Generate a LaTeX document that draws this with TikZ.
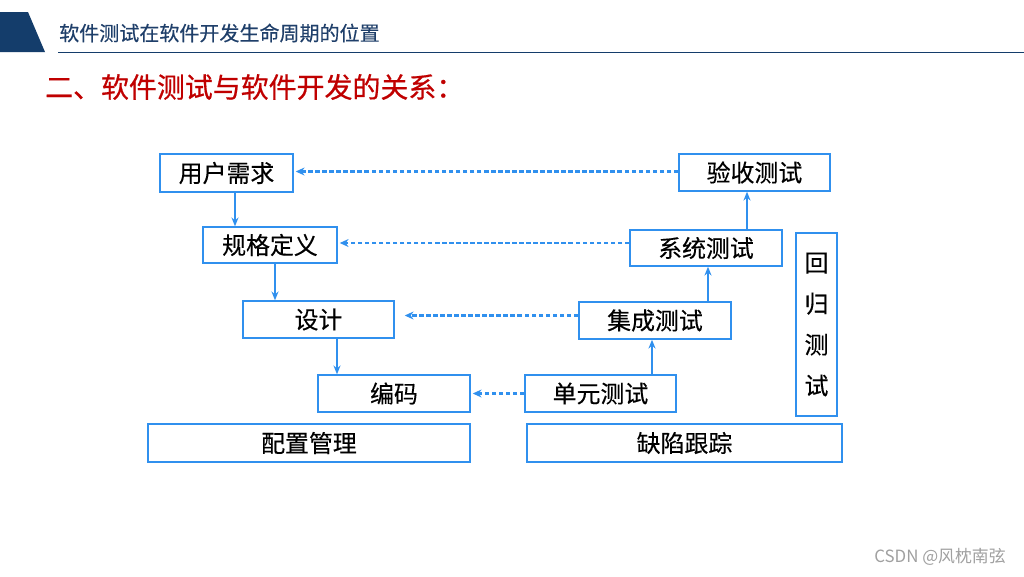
\documentclass[tikz,border=0pt]{standalone}
\usepackage{fontspec}
\setmainfont{Noto Sans CJK SC}
\newfontfamily\boldcjk[FakeBold=0.6]{Noto Sans CJK SC}
\newfontfamily\semicjk[FakeBold=0.3]{Noto Sans CJK SC}
\usetikzlibrary{arrows.meta,positioning}
\definecolor{boxcol}{HTML}{3090EE}
\definecolor{navycol}{HTML}{143D6B}
\definecolor{titlecol}{HTML}{1F3F6A}
\definecolor{redcol}{HTML}{C00000}
\definecolor{mutedcol}{HTML}{A0A0A0}

\begin{document}
\begin{tikzpicture}[
    x=0.02cm, y=-0.02cm,
    >={Stealth[length=5pt,width=4pt]},
    stage/.style={draw=boxcol, line width=0.85pt, inner sep=0pt,
      minimum width=3.02cm, minimum height=0.74cm,
      font=\semicjk\fontsize{13.6}{16}\selectfont},
    flow/.style={boxcol, line width=0.75pt, ->},
    feedback/.style={boxcol, line width=1.2pt, dash pattern=on 2.6pt off 1.4pt,
      -{Stealth[length=5pt,width=4.5pt]}},
  ]

  % page
  \fill[white] (0,0) rectangle (1024,576);
  \useasboundingbox (0,0) rectangle (1024,576);

  % Header bar
  \fill[navycol] (0,12) -- (28,12) -- (45,52) -- (0,52) -- cycle;
  \draw[navycol, line width=1.1pt] (58,52.5) -- (1024,52.5);
  \node[anchor=west, titlecol, font=\semicjk\fontsize{11.4}{13}\selectfont] (title) at (53,33)
    {软件测试在软件开发生命周期的位置};
  \node[anchor=west, redcol, font=\boldcjk\fontsize{15.9}{18}\selectfont] (heading) at (39,87)
    {二、软件测试与软件开发的关系：};

  % Development side
  \node[stage, minimum width=2.66cm, minimum height=0.76cm] (req) at (226.5,173) {用户需求};
  \node[stage, minimum width=2.68cm, minimum height=0.72cm] (spec) at (270,245) {规格定义};
  \node[stage] (design) at (318.5,319.5) {设计};
  \node[stage, minimum width=3.04cm] (code) at (394,393.5) {编码};

  % Testing side
  \node[stage] (accept) at (754.5,172.5) {验收测试};
  \node[stage, minimum width=3.04cm, minimum height=0.72cm] (system) at (706,248) {系统测试};
  \node[stage, minimum width=3.04cm] (integ) at (655,320.5) {集成测试};
  \node[stage] (unit) at (600.5,393.5) {单元测试};

  % Regression testing
  \node[stage, minimum width=0.82cm, minimum height=3.66cm, align=center,
    font=\semicjk\fontsize{13.6}{23.3}\selectfont] (regress) at (816.5,324.5)
    {回\\归\\测\\试};

  % Support activities
  \node[stage, minimum width=6.44cm, minimum height=0.76cm] (config) at (309,443) {配置管理};
  \node[stage, minimum width=6.3cm, minimum height=0.76cm] (defect) at (684.5,443) {缺陷跟踪};

  % Development flow
  \draw[flow] ([xshift=0.17cm]req.south) -- ([xshift=0.17cm]req.south |- spec.north);
  \draw[flow] ([xshift=0.1cm]spec.south) -- ([xshift=0.1cm]spec.south |- design.north);
  \draw[flow] ([xshift=0.37cm]design.south) -- ([xshift=0.37cm]design.south |- code.north);

  % Testing flow
  \draw[flow] ([xshift=1.03cm]unit.north) -- ([xshift=1.03cm]unit.north |- integ.south);
  \draw[flow] ([xshift=1.06cm]integ.north) -- ([xshift=1.06cm]integ.north |- system.south);
  \draw[flow] ([xshift=0.82cm]system.north) -- ([xshift=0.82cm]system.north |- accept.south);

  % Verification links
  \draw[feedback] ([yshift=0.02cm]accept.west) -- ([yshift=0.02cm,xshift=0.04cm]accept.west -| req.east);
  \draw[feedback] ([yshift=0.1cm]system.west) -- ([yshift=0.1cm,xshift=0.04cm]system.west -| spec.east);
  \draw[feedback] ([yshift=0.1cm]integ.west) -- ([yshift=0.1cm,xshift=0.2cm]integ.west -| design.east);
  \draw[feedback] (unit.west) -- ([xshift=0.04cm]unit.west -| code.east);

  % Watermark
  \node[mutedcol, font=\fontsize{9.6}{11}\selectfont] (mark) at (940,557) {CSDN @风枕南弦};

\end{tikzpicture}
\end{document}
